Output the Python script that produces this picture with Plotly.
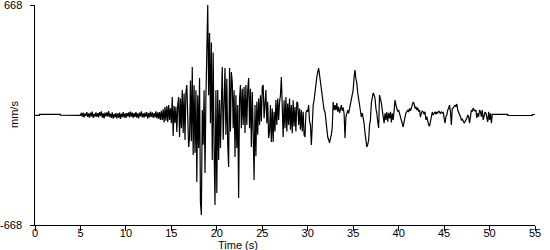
import numpy as np
import plotly.graph_objects as go

# Quiet pre-event and post-event segments (time s, velocity mm/s)
pre_t = [0.0, 0.5, 0.5, 2.8, 2.8, 4.9]
pre_v = [-2, -2, 4, 4, -1, -1]
post_t = [50.4, 52.0, 52.0, 54.7, 54.7, 55.0]
post_v = [4, 4, -3, -3, 3, 3]

# Recorded motion sampled every 0.1 s starting at 5.0 s (mm/s)
rec_start = 5.0
rec_dt = 0.1
rec_v = [
    -2, 12, -10, 15, -14, 8, -6, 18, -12, 10,
    -16, 14, -8, 20, -18, 6, -10, 16, -12, 12,
    -14, 18, -6, 22, -16, 10, -20, 14, -8, 16,
    -10, 24, -12, 8, -18, 16, -22, 6, -14, 12,
    -20, 10, -16, 14, -24, 8, -12, 18, -16, 10,
    -18, 12, -8, 16, -14, 20, -10, 14, -18, 12,
    -12, 18, -16, 10, -20, 14, -8, 22, -14, 10,
    -16, 14, -10, 18, -22, 12, -14, 20, -12, 16,
    -18, 12, -14, 22, -20, 16, -24, 18, -30, 26,
    -30, 35, -45, 49, -35, 55, -42, 61, -30, 40,
    -50, 109, -127, 55, -48, 50, -103, 60, 109, -134,
    100, -80, 152, -109, 130, -152, 140, 182, -120, -194,
    -140, 210, -160, 291, -243, 180, -230, 150, -407, 120,
    -200, 225, -528, -607, 30, -180, 150, -352, 100, 400,
    668, 120, 498, -50, 440, -273, 380, -200, -546, 150,
    -473, 152, -273, 91, -200, 60, 291, -150, 180, 285,
    -120, 220, -180, -316, 285, -100, 261, 200, -80, 150,
    -255, 120, -200, 60, -504, 100, 182, -80, 160, -60,
    170, -109, 182, -60, 150, 225, -80, 160, -194, 140,
    -100, -395, 60, -250, 80, -120, 100, -60, 120, -40,
    170, 182, -20, 60, 152, -50, 80, -140, -100, 60,
    -164, 40, -164, 20, -100, 91, -60, 100, -30, 80,
    120, 231, 40, -134, 90, -80, 109, -100, 70, -60,
    100, -90, 60, -110, 90, -70, 49, -100, 80, 73,
    -60, 40, -90, 30, -100, 20, -121, -134, 10, 30,
    20, 61, -40, -60, -182, 10, 60, 90, 152, 194,
    230, 260, 285, 243, 200, 164, 109, 60, 30, 20,
    -40, -73, -134, -150, -170, -140, -121, -73, 79, 30,
    60, 30, 73, 20, 50, 12, 40, 60, 25, 45,
    10, -140, -12, 20, 30, 10, 40, 60, 100, 130,
    152, 230, 273, 220, 194, 134, 100, 49, 20, -12,
    12, -20, -49, -109, -140, -194, -180, -152, -60, -30,
    73, 100, 134, 121, 103, 40, 12, -40, -79, 121,
    100, 73, 30, -10, -49, 10, -30, 18, -40, 12,
    -20, 20, -45, 10, -30, 25, 91, 61, 40, 20,
    30, 10, -10, -30, -55, -73, -40, -10, 12, 20,
    30, 18, 40, 25, 50, 60, 79, 70, 40, 50,
    30, 45, 20, 30, -12, 10, 25, 18, 5, 20,
    -30, -10, -40, -61, -67, -30, 10, 18, 0, 12,
    20, 5, 18, 10, 25, 18, 8, 20, 12, 15,
    -20, -49, -10, 0, 30, 40, 61, 20, -61, 40,
    42, 55, 61, 50, 67, 30, 18, 0, -10, -30,
    -25, -35, -49, -40, -30, -20, 0, -10, -49, 10,
    30, 20, 42, 30, 25, 30, -18, 10, -10, 30,
    20, -10, 30, -30, 10, 18, 12, -20, -42, 20,
    -30, 10, -50, 5,
]

x_ticks = [0, 5, 10, 15, 20, 25, 30, 35, 40, 45, 50, 55]
y_ticks = [-668, 668]
y_tick_text = ["-668", "668"]

rec_t = list(np.round(rec_start + rec_dt * np.arange(len(rec_v)), 2))
t_all = pre_t + rec_t + post_t
v_all = pre_v + rec_v + post_v

font = dict(family="Liberation Sans, Arial, sans-serif", size=11, color="black")

fig = go.Figure()
fig.add_trace(go.Scatter(x=t_all, y=v_all, mode="lines",
                         line=dict(color="black", width=1.2), showlegend=False,
                         hoverinfo="skip"))

annotations = [
    dict(text="Time (s)", xref="paper", yref="paper", x=0.406, y=-0.09,
         xanchor="center", yanchor="middle", showarrow=False, font=font),
    dict(text="mm/s", xref="paper", yref="paper", x=-0.042, y=0.5,
         xanchor="center", yanchor="middle", showarrow=False, font=font,
         textangle=-90),
]
for val, txt in zip(y_ticks, y_tick_text):
    annotations.append(dict(text=txt, xref="paper", yref="y", x=-0.022, y=val,
                            xanchor="right", yanchor="middle", showarrow=False,
                            font=font))

fig.update_layout(
    width=550, height=250,
    margin=dict(l=35, r=15, t=5, b=25),
    paper_bgcolor="white", plot_bgcolor="white",
    font=font,
    xaxis=dict(range=[0, 55], tickvals=x_ticks, showgrid=False, zeroline=False,
               showline=True, linecolor="black", linewidth=1,
               ticks="outside", ticklen=5, tickcolor="black", tickfont=font,
               ticklabelstandoff=-7),
    yaxis=dict(range=[-668, 668], tickvals=y_ticks, showticklabels=False,
               showgrid=False, zeroline=False, showline=True, linecolor="black",
               linewidth=1, ticks="outside", ticklen=4, tickcolor="black"),
    annotations=annotations,
)

fig.write_html("out.html")
